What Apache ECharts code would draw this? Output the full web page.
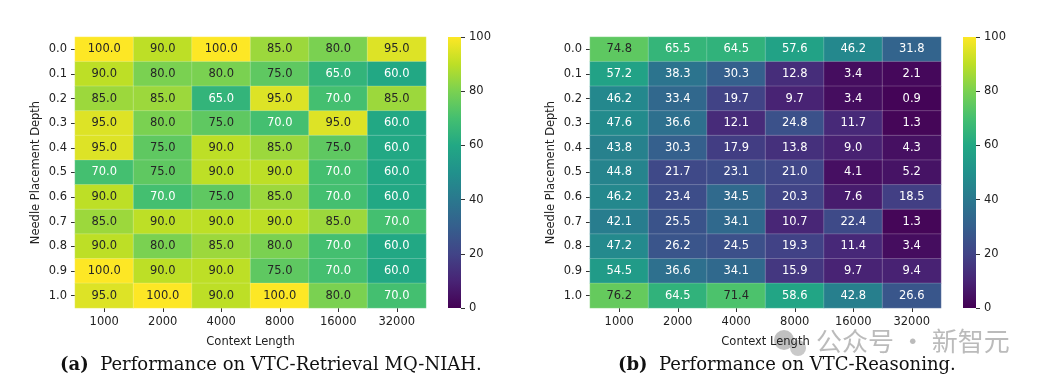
<!DOCTYPE html>
<html><head><meta charset="utf-8">
<script src="https://cdn.jsdelivr.net/npm/echarts@6/dist/echarts.min.js"></script>
<style>html,body{margin:0;padding:0;background:#fff}#c{width:1054px;height:386px}</style>
</head><body><div id="c"></div>
<script>
const contextLengths = ['1000','2000','4000','8000','16000','32000'];
const depths = ['0.0','0.1','0.2','0.3','0.4','0.5','0.6','0.7','0.8','0.9','1.0'];
const retrievalScores = [
  [100, 90, 100, 85, 80, 95],
  [90, 80, 80, 75, 65, 60],
  [85, 85, 65, 95, 70, 85],
  [95, 80, 75, 70, 95, 60],
  [95, 75, 90, 85, 75, 60],
  [70, 75, 90, 90, 70, 60],
  [90, 70, 75, 85, 70, 60],
  [85, 90, 90, 90, 85, 70],
  [90, 80, 85, 80, 70, 60],
  [100, 90, 90, 75, 70, 60],
  [95, 100, 90, 100, 80, 70]
];
const reasoningScores = [
  [74.8, 65.5, 64.5, 57.6, 46.2, 31.8],
  [57.2, 38.3, 30.3, 12.8, 3.4, 2.1],
  [46.2, 33.4, 19.7, 9.7, 3.4, 0.9],
  [47.6, 36.6, 12.1, 24.8, 11.7, 1.3],
  [43.8, 30.3, 17.9, 13.8, 9.0, 4.3],
  [44.8, 21.7, 23.1, 21.0, 4.1, 5.2],
  [46.2, 23.4, 34.5, 20.3, 7.6, 18.5],
  [42.1, 25.5, 34.1, 10.7, 22.4, 1.3],
  [47.2, 26.2, 24.5, 19.3, 11.4, 3.4],
  [54.5, 36.6, 34.1, 15.9, 9.7, 9.4],
  [76.2, 64.5, 71.4, 58.6, 42.8, 26.6]
];
const colorbarTicks = [0, 20, 40, 60, 80, 100];
const captionA = 'Performance on VTC-Retrieval MQ-NIAH.';
const captionB = 'Performance on VTC-Reasoning.';
const watermark = '公众号 · 新智元';

const viridis = ['#440154','#482475','#414487','#355f8d','#2a788e','#21918c','#22a884','#44bf70','#7ad151','#bddf26','#fde725'];
const FONT = 'DejaVu Sans';
const FS = 11.5;

function cells(m) {
  const out = [];
  m.forEach((row, r) => row.forEach((v, c) => {
    out.push({value: [c, r, v], label: {color: v >= 71 ? '#262626' : '#ffffff'}});
  }));
  return out;
}

const gridTop = 37, gridH = 271;
const grids = [
  {left: 75, top: gridTop, width: 351, height: gridH},
  {left: 590, top: gridTop, width: 351, height: gridH},
  {left: 448, top: gridTop, width: 13, height: gridH},
  {left: 963, top: gridTop, width: 13, height: gridH}
];

function heatX(i) {
  return {type: 'category', gridIndex: i, data: contextLengths,
    name: 'Context Length', nameLocation: 'middle', nameGap: 28,
    nameTextStyle: {fontFamily: FONT, fontSize: FS, color: '#222'},
    axisLine: {show: false}, splitLine: {show: false},
    axisTick: {show: true, alignWithLabel: true, length: 4, lineStyle: {color: '#333'}},
    axisLabel: {fontFamily: FONT, fontSize: FS, color: '#222', margin: 8}};
}
function heatY(i) {
  return {type: 'category', gridIndex: i, data: depths, inverse: true,
    name: 'Needle Placement Depth', nameLocation: 'middle', nameGap: 33, nameRotate: 90,
    nameTextStyle: {fontFamily: FONT, fontSize: FS, color: '#222'},
    axisLine: {show: false}, splitLine: {show: false},
    axisTick: {show: true, alignWithLabel: true, length: 4, lineStyle: {color: '#333'}},
    axisLabel: {fontFamily: FONT, fontSize: FS, color: '#222', margin: 8}};
}
function cbX(i) {
  return {type: 'category', gridIndex: i, data: ['c'], show: false};
}
function cbY(i) {
  return {type: 'value', gridIndex: i, min: 0, max: 100, interval: 20, position: 'right',
    axisLine: {show: false}, splitLine: {show: false},
    axisTick: {show: true, inside: false, length: 4, lineStyle: {color: '#333'}},
    axisLabel: {fontFamily: FONT, fontSize: FS, color: '#222', margin: 8,
      formatter: v => colorbarTicks.includes(v) ? String(v) : ''}};
}

function heatSeries(i, m) {
  return {type: 'heatmap', xAxisIndex: i, yAxisIndex: i, data: cells(m),
    itemStyle: {borderColor: 'rgba(255,255,255,0.35)', borderWidth: 0.6},
    label: {show: true, fontFamily: FONT, fontSize: FS, formatter: p => p.value[2].toFixed(1)},
    emphasis: {disabled: true}};
}
function cbSeries(i) {
  return {type: 'bar', xAxisIndex: i, yAxisIndex: i, data: [100], barWidth: '100%',
    silent: true,
    itemStyle: {color: new echarts.graphic.LinearGradient(0, 0, 0, 1,
      viridis.slice().reverse().map((c, k) => ({offset: k / (viridis.length - 1), color: c})))}};
}

const CAP = 18;
const capRich = {b: {fontFamily: 'DejaVu Serif', fontWeight: 'bold', fontSize: CAP, fill: '#111'}};
const chart = echarts.init(document.getElementById('c'), null, {renderer: 'canvas'});
chart.setOption({
  animation: false,
  backgroundColor: '#ffffff',
  grid: grids,
  xAxis: [heatX(0), heatX(1), cbX(2), cbX(3)],
  yAxis: [heatY(0), heatY(1), cbY(2), cbY(3)],
  visualMap: [{type: 'continuous', show: false, min: 0, max: 100, seriesIndex: [0, 1],
    inRange: {color: viridis}}],
  series: [heatSeries(0, retrievalScores), heatSeries(1, reasoningScores), cbSeries(2), cbSeries(3)],
  graphic: [
    {type: 'text', left: 60, top: 356, style: {
      text: '{b|(a)}  ' + captionA, rich: capRich,
      fontFamily: 'DejaVu Serif', fontSize: CAP, fill: '#111'}},
    {type: 'text', left: 618, top: 356, style: {
      text: '{b|(b)}  ' + captionB, rich: capRich,
      fontFamily: 'DejaVu Serif', fontSize: CAP, fill: '#111'}},
    {type: 'circle', shape: {cx: 784, cy: 340, r: 10}, style: {fill: 'rgba(150,150,150,0.6)'}},
    {type: 'circle', shape: {cx: 798, cy: 348, r: 8}, style: {fill: 'rgba(165,165,165,0.6)'}},
    {type: 'text', left: 816, top: 328, style: {text: watermark,
      fontFamily: 'Noto Sans CJK SC', fontSize: 26, fill: 'rgba(150,150,150,0.65)'}}
  ]
});
</script></body></html>
